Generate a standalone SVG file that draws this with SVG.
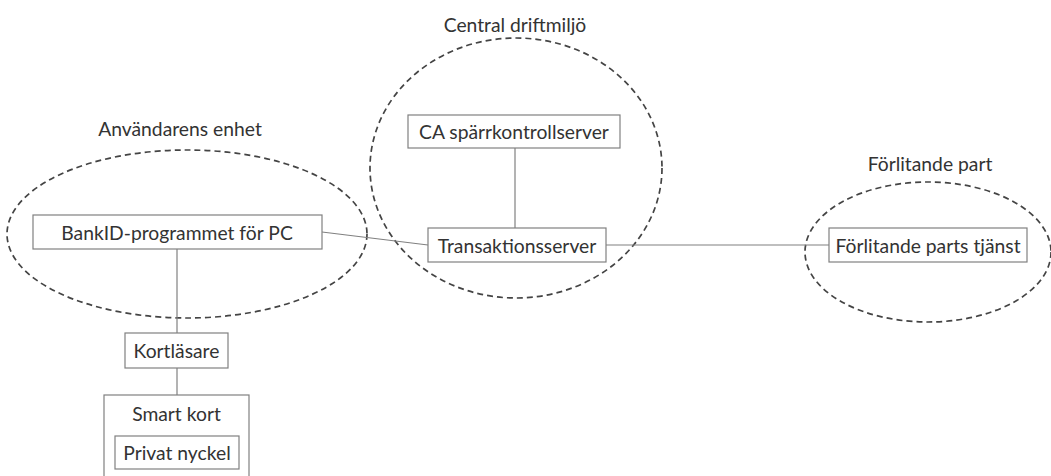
<svg xmlns="http://www.w3.org/2000/svg" width="1051" height="476" viewBox="0 0 1051 476">
<style>
.zone{fill:none;stroke:#444;stroke-width:1.7;stroke-dasharray:6 4}
.box{fill:#fff;stroke:#808080;stroke-width:1.2}
.line{fill:none;stroke:#808080;stroke-width:1.2}
text{font-family:Lato,"Open Sans",sans-serif;font-size:19.3px;fill:#333;text-anchor:middle;dominant-baseline:central}
</style>
<rect width="1051" height="476" fill="#fff"/>
<g id="zone-user">
<ellipse class="zone" cx="187" cy="234" rx="180" ry="84"/>
<text x="180" y="128">Användarens enhet</text>
</g>
<g id="zone-central">
<ellipse class="zone" cx="516" cy="168" rx="146" ry="130"/>
<text x="515" y="24">Central driftmiljö</text>
</g>
<g id="zone-rp">
<ellipse class="zone" cx="928" cy="252" rx="123" ry="70"/>
<text x="930" y="163">Förlitande part</text>
</g>
<g id="connectors">
<line class="line" x1="322" y1="232" x2="428" y2="245"/>
<line class="line" x1="515" y1="148" x2="515" y2="228"/>
<line class="line" x1="606" y1="245" x2="829" y2="245"/>
<line class="line" x1="177" y1="249" x2="177" y2="333"/>
<line class="line" x1="177" y1="368" x2="177" y2="395"/>
</g>
<g id="node-bankid">
<rect class="box" x="33" y="215" width="289" height="34"/>
<text x="177" y="232">BankID-programmet för PC</text>
</g>
<g id="node-ca">
<rect class="box" x="408" y="115" width="212" height="33"/>
<text x="514" y="131.5">CA spärrkontrollserver</text>
</g>
<g id="node-trans">
<rect class="box" x="428" y="228" width="178" height="34"/>
<text x="517" y="245">Transaktionsserver</text>
</g>
<g id="node-rp">
<rect class="box" x="829" y="228" width="198" height="34"/>
<text x="928" y="245">Förlitande parts tjänst</text>
</g>
<g id="node-reader">
<rect class="box" x="125" y="333" width="103" height="35"/>
<text x="176.5" y="350.5">Kortläsare</text>
</g>
<g id="node-smartcard">
<rect class="box" x="104" y="395" width="145" height="100"/>
<text x="176.5" y="413">Smart kort</text>
</g>
<g id="node-key">
<rect class="box" x="115" y="436" width="124" height="33"/>
<text x="177" y="452">Privat nyckel</text>
</g>
</svg>
